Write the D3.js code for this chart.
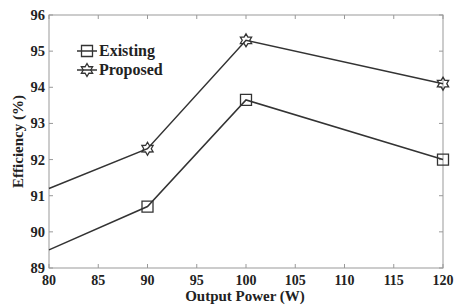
<!DOCTYPE html>
<html>
<head>
  <meta charset="utf-8">
  <script src="https://d3js.org/d3.v7.min.js"></script>
  <style>
    body { margin: 0; background: #fff; }
    text { font-family: "Liberation Serif", "Times New Roman", serif; font-weight: bold; fill: #222; }
  </style>
</head>
<body>
<script>
  // chart data
  var power = [80, 90, 100, 120];
  var existing = [89.5, 90.7, 93.65, 92.0];
  var proposed = [91.2, 92.3, 95.3, 94.1];
  var xTicks = [80, 85, 90, 95, 100, 105, 110, 115, 120];
  var yTicks = [89, 90, 91, 92, 93, 94, 95, 96];

  var W = 454, H = 305;
  var pLeft = 49, pRight = 443, pTop = 15, pBottom = 268;

  var svg = d3.select("body").append("svg")
      .attr("width", W)
      .attr("height", H);

  var x = d3.scaleLinear().domain([80, 120]).range([pLeft, pRight]);
  var y = d3.scaleLinear().domain([89, 96]).range([pBottom, pTop]);

  // box with inner ticks on all sides
  var axisColor = "#999";
  svg.append("rect")
    .attr("x", pLeft).attr("y", pTop)
    .attr("width", pRight - pLeft).attr("height", pBottom - pTop)
    .attr("fill", "none").attr("stroke", axisColor).attr("stroke-width", 1);

  var tickLen = 4;
  xTicks.forEach(function(t){
    svg.append("line").attr("x1", x(t)).attr("x2", x(t))
      .attr("y1", pBottom).attr("y2", pBottom - tickLen).attr("stroke", axisColor);
    svg.append("line").attr("x1", x(t)).attr("x2", x(t))
      .attr("y1", pTop).attr("y2", pTop + tickLen).attr("stroke", axisColor);
  });
  yTicks.forEach(function(t){
    svg.append("line").attr("x1", pLeft).attr("x2", pLeft + tickLen)
      .attr("y1", y(t)).attr("y2", y(t)).attr("stroke", axisColor);
    svg.append("line").attr("x1", pRight).attr("x2", pRight - tickLen)
      .attr("y1", y(t)).attr("y2", y(t)).attr("stroke", axisColor);
  });

  // tick labels
  svg.selectAll(".xl").data(xTicks).enter().append("text")
    .attr("x", function(d){ return x(d); })
    .attr("y", 285)
    .attr("text-anchor", "middle")
    .style("font-size", "14px")
    .text(function(d){ return d; });

  svg.selectAll(".yl").data(yTicks).enter().append("text")
    .attr("x", 45)
    .attr("y", function(d){ return y(d) + 5; })
    .attr("text-anchor", "end")
    .style("font-size", "14.5px")
    .text(function(d){ return d; });

  // axis titles
  svg.append("text")
    .attr("x", 245)
    .attr("y", 300.5)
    .attr("text-anchor", "middle")
    .style("font-size", "15px")
    .text("Output Power (W)");

  svg.append("text")
    .attr("transform", "translate(23," + ((pTop + pBottom) / 2) + ") rotate(-90)")
    .attr("text-anchor", "middle")
    .style("font-size", "15px")
    .text("Efficiency (%)");

  var lineColor = "#333";
  var line = d3.line()
    .x(function(d){ return x(d[0]); })
    .y(function(d){ return y(d[1]); });

  function zip(vals) { return power.map(function(p, i){ return [p, vals[i]]; }); }

  // hexagram path centred on 0,0
  function hexagram(r) {
    var pts = [];
    for (var i = 0; i < 12; i++) {
      var a = -Math.PI / 2 + i * Math.PI / 6;
      var rr = i % 2 === 0 ? r : r * 0.58;
      pts.push([rr * Math.cos(a), rr * Math.sin(a)]);
    }
    return "M" + pts.map(function(p){ return p.join(","); }).join("L") + "Z";
  }
  var squarePath = "M-5.5,-5.5L5.5,-5.5L5.5,5.5L-5.5,5.5Z";
  var starPath = hexagram(6.5);

  [[existing, squarePath], [proposed, starPath]].forEach(function(s){
    var pts = zip(s[0]);
    svg.append("path").datum(pts)
      .attr("d", line)
      .attr("fill", "none").attr("stroke", lineColor).attr("stroke-width", 1.5);
    svg.selectAll(null).data(pts.filter(function(d){ return d[0] > 80; }))
      .enter().append("path")
      .attr("d", s[1])
      .attr("transform", function(d){ return "translate(" + x(d[0]) + "," + y(d[1]) + ")"; })
      .attr("fill", "none").attr("stroke", lineColor).attr("stroke-width", 1.3);
  });

  // legend
  var legend = [["Existing", squarePath, 51], ["Proposed", starPath, 70]];
  legend.forEach(function(l){
    svg.append("line").attr("x1", 77).attr("x2", 97)
      .attr("y1", l[2]).attr("y2", l[2])
      .attr("stroke", lineColor).attr("stroke-width", 1.5);
    svg.append("path").attr("d", l[1])
      .attr("transform", "translate(87," + l[2] + ")")
      .attr("fill", "none").attr("stroke", lineColor).attr("stroke-width", 1.3);
    svg.append("text")
      .attr("x", 99).attr("y", l[2] + 5)
      .style("font-size", "16px")
      .text(l[0]);
  });
</script>
</body>
</html>
